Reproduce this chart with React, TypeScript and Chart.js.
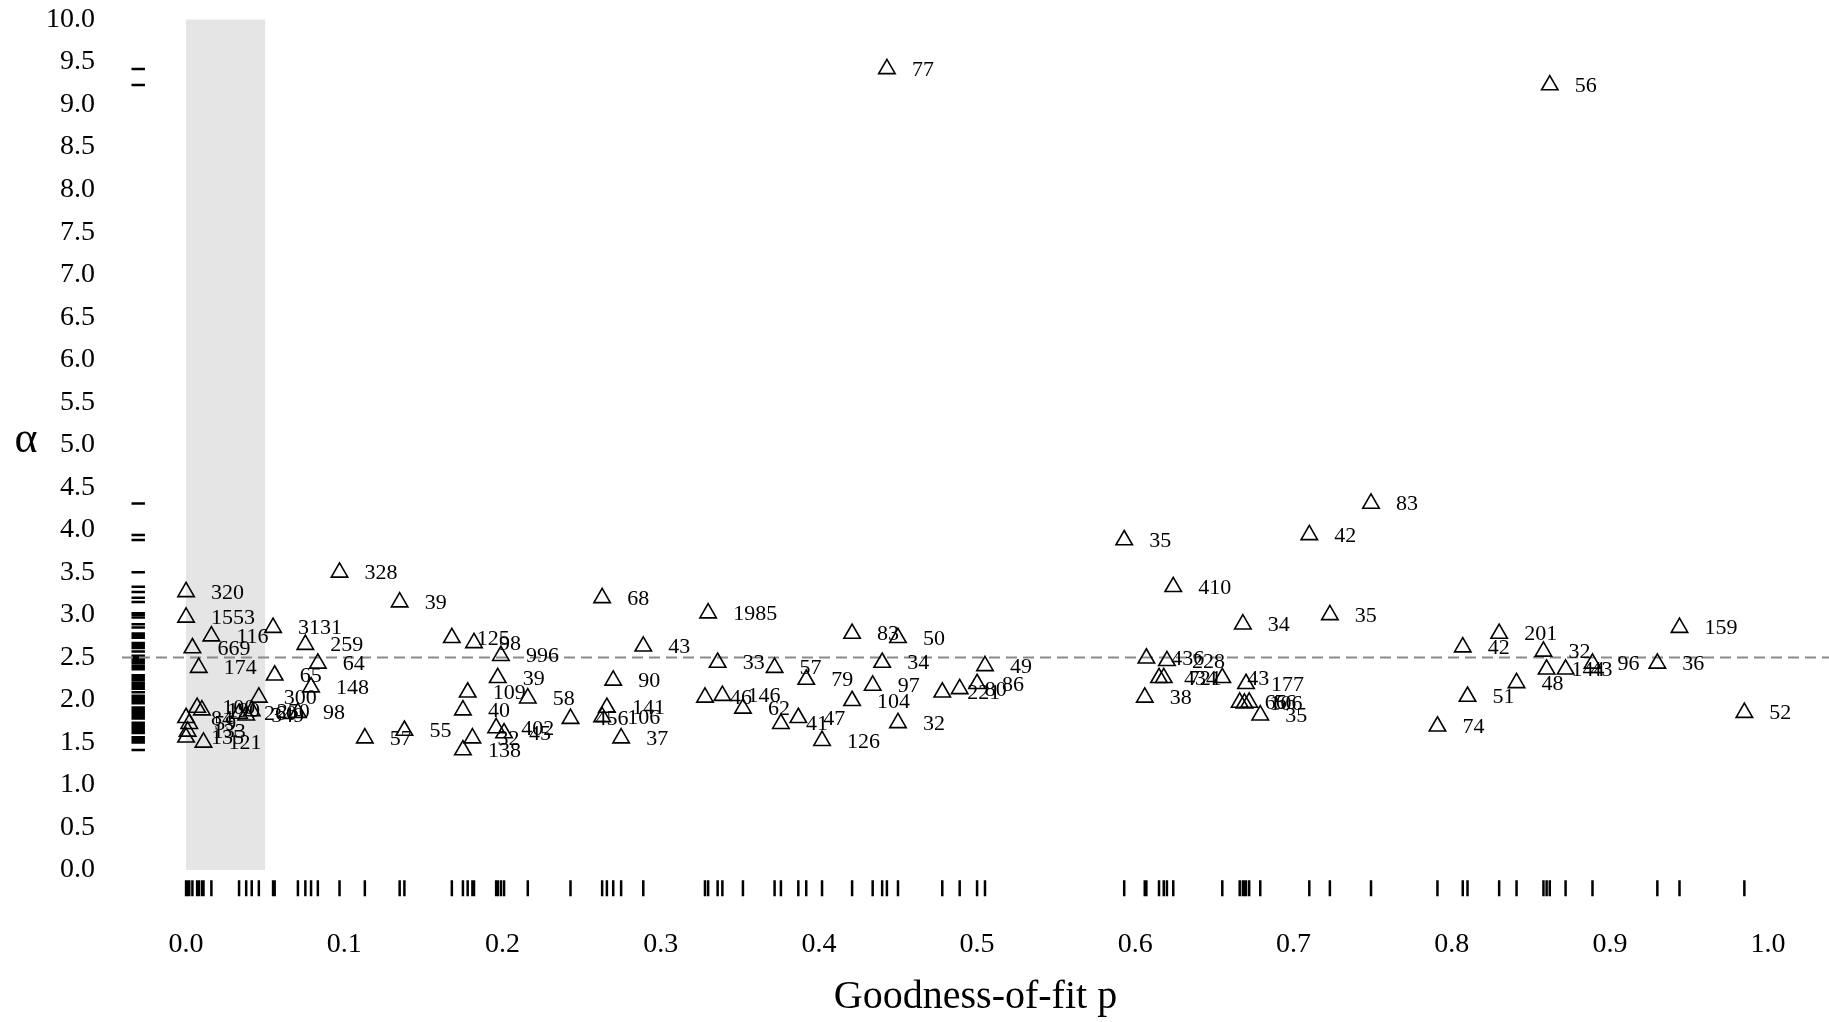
import React, { useEffect, useRef } from 'react';
import { Chart, registerables } from 'chart.js';

Chart.register(...registerables);

// Goodness-of-fit p for each data set
const pValues: number[] = [
  0.000, 0.000, 0.004, 0.008, 0.016, 0.000, 0.002, 0.001, 0.000, 0.011,
  0.007, 0.010, 0.0335, 0.038, 0.0415, 0.046,
  0.055, 0.056, 0.0707, 0.0754, 0.079, 0.0833, 0.097,
  0.113, 0.135, 0.138,
  0.168, 0.175, 0.175, 0.178, 0.181, 0.182, 0.196, 0.197, 0.199, 0.201, 0.216, 0.243,
  0.263, 0.263, 0.266, 0.270, 0.275, 0.289,
  0.328, 0.330, 0.336, 0.339, 0.352, 0.372, 0.376, 0.387, 0.392, 0.402,
  0.421, 0.421, 0.434, 0.440, 0.443, 0.450, 0.450, 0.478, 0.489, 0.500, 0.505,
  0.593, 0.606, 0.607, 0.615, 0.618, 0.620, 0.624, 0.655, 0.666, 0.668, 0.669, 0.670, 0.672, 0.679,
  0.710, 0.723, 0.749, 0.791, 0.807, 0.810, 0.830, 0.841, 0.858, 0.860, 0.862, 0.872, 0.889, 0.930, 0.944, 0.985,
];

// Estimated power-law exponent alpha
const alphaValues: number[] = [
  3.27, 2.97, 2.61, 2.38, 2.75, 1.79, 1.72, 1.63, 1.56, 1.50,
  1.91, 1.88, 1.84, 1.82, 1.87, 2.03,
  2.85, 2.29, 1.85, 2.65, 2.15, 2.43, 3.50,
  1.55, 3.15, 1.64,
  2.73, 1.88, 1.41, 2.09, 1.55, 2.67, 1.67, 2.26, 2.52, 1.61, 2.02, 1.78,
  3.20, 1.80, 1.91, 2.23, 1.55, 2.63,
  2.03, 3.02, 2.44, 2.05, 1.90, 2.38, 1.72, 1.79, 2.24, 1.52,
  2.78, 1.99, 2.17, 2.44, 9.42, 2.73, 1.73, 2.09, 2.13, 2.19, 2.40,
  3.88, 2.03, 2.49, 2.26, 2.26, 2.46, 3.33, 2.26, 1.97, 2.89, 1.96, 2.19, 1.97, 1.82,
  3.94, 3.00, 4.31, 1.69, 2.62, 2.04, 2.78, 2.20, 2.57, 2.36, 9.23, 2.36, 2.43, 2.43, 2.85, 1.85,
];

// Sample size printed beside each point
const pointLabels: string[] = [
  '320', '1553', '669', '174', '116', '84', '59', '133', '135', '121',
  '100', '190', '260', '349', '250', '300',
  '3131', '65', '98', '259', '148', '64', '328',
  '57', '39', '55',
  '125', '40', '138', '109', '32', '98', '402', '39', '996', '45', '58', '456',
  '68', '106', '141', '90', '37', '43',
  '46', '1985', '33', '146', '62', '57', '41', '47', '79', '126',
  '83', '104', '97', '34', '77', '50', '32', '221', '80', '86', '49',
  '35', '38', '436', '434', '721', '228', '410', '43', '66', '34', '106', '177', '56', '35',
  '42', '35', '83', '74', '42', '51', '201', '48', '32', '144', '56', '43', '96', '36', '159', '52',
];

const xTickValues: number[] = [0, 0.1, 0.2, 0.3, 0.4, 0.5, 0.6, 0.7, 0.8, 0.9, 1.0];
const yTickValues: number[] = [
  0, 0.5, 1, 1.5, 2, 2.5, 3, 3.5, 4, 4.5, 5, 5.5, 6, 6.5, 7, 7.5, 8, 8.5, 9, 9.5, 10,
];
const shadeP: number[] = [0, 0.05];
const shadeAlpha: number[] = [0, 10];
const referenceAlpha = 2.5;
const xTitle = 'Goodness-of-fit p';
const yTitle = 'α';

// style constants (data units for rug placement)
const X_RUG_ALPHA = [-0.12, -0.31];
const Y_RUG_P = [-0.0345, -0.026];
const FONT = "'Liberation Serif', 'Times New Roman', serif";

const decorPlugin = {
  id: 'decor',
  beforeDatasetsDraw(chart: any) {
    const { ctx, chartArea, scales } = chart;
    const x = scales.x;
    const y = scales.y;
    ctx.save();
    // shaded significance band
    ctx.fillStyle = '#e5e5e5';
    const sx0 = x.getPixelForValue(shadeP[0]);
    const sx1 = x.getPixelForValue(shadeP[1]);
    const sy0 = y.getPixelForValue(shadeAlpha[1]);
    const sy1 = y.getPixelForValue(shadeAlpha[0]);
    ctx.fillRect(sx0, sy0, sx1 - sx0, sy1 - sy0);

    // rugs
    ctx.strokeStyle = '#000';
    ctx.lineWidth = 2.5;
    ctx.beginPath();
    const ry0 = y.getPixelForValue(X_RUG_ALPHA[0]);
    const ry1 = y.getPixelForValue(X_RUG_ALPHA[1]);
    pValues.forEach((p) => {
      const px = x.getPixelForValue(p);
      ctx.moveTo(px, ry0);
      ctx.lineTo(px, ry1);
    });
    const rx0 = x.getPixelForValue(Y_RUG_P[0]);
    const rx1 = x.getPixelForValue(Y_RUG_P[1]);
    alphaValues.forEach((a) => {
      const py = y.getPixelForValue(a);
      ctx.moveTo(rx0, py);
      ctx.lineTo(rx1, py);
    });
    ctx.stroke();

    // reference dashed line
    const ly = y.getPixelForValue(referenceAlpha);
    ctx.setLineDash([11, 6]);
    ctx.strokeStyle = '#8a8a8a';
    ctx.lineWidth = 2;
    ctx.beginPath();
    ctx.moveTo(chartArea.left, ly);
    ctx.lineTo(chartArea.right, ly);
    ctx.stroke();
    ctx.restore();
  },
  afterDatasetsDraw(chart: any) {
    const { ctx, scales } = chart;
    const x = scales.x;
    const y = scales.y;
    ctx.save();
    ctx.fillStyle = '#000';
    ctx.font = `22px ${FONT}`;
    ctx.textAlign = 'left';
    ctx.textBaseline = 'middle';
    pValues.forEach((p, i) => {
      const px = x.getPixelForValue(p);
      const py = y.getPixelForValue(alphaValues[i]);
      ctx.fillText(pointLabels[i], px + 25, py + 1);
    });
    // y-axis title (upright)
    ctx.font = `44px ${FONT}`;
    ctx.textAlign = 'center';
    ctx.fillText(yTitle, 26, y.getPixelForValue(5) - 4);
    ctx.restore();
  },
};

export default function App() {
  const ref = useRef<HTMLCanvasElement | null>(null);

  useEffect(() => {
    if (!ref.current) return;
    const chart = new Chart(ref.current, {
      type: 'scatter',
      data: {
        datasets: [
          {
            data: pValues.map((p, i) => ({ x: p, y: alphaValues[i] })),
            pointStyle: 'triangle',
            pointRadius: 9.5,
            pointHoverRadius: 9.5,
            borderColor: '#000',
            borderWidth: 1.6,
            backgroundColor: 'rgba(0,0,0,0)',
            clip: false,
          },
        ],
      },
      options: {
        responsive: false,
        animation: false,
        events: [],
        layout: { padding: 0, autoPadding: false },
        plugins: {
          legend: { display: false },
          tooltip: { enabled: false },
        },
        scales: {
          x: {
            type: 'linear',
            min: -0.0405,
            max: 1.0385,
            grid: { display: false, drawTicks: false },
            border: { display: false },
            afterBuildTicks: (s: any) => {
              s.ticks = xTickValues.map((v) => ({ value: v }));
            },
            afterFit: (s: any) => {
              s.height = 118;
              s.paddingLeft = 0;
              s.paddingRight = 0;
            },
            ticks: {
              autoSkip: false,
              maxRotation: 0,
              padding: 24,
              color: '#000',
              font: { family: FONT, size: 28 },
              callback: (v: any) => Number(v).toFixed(1),
            },
            title: {
              display: true,
              text: xTitle,
              color: '#000',
              font: { family: FONT, size: 40 },
              padding: { top: 0, bottom: 1 },
            },
          },
          y: {
            type: 'linear',
            min: -0.4,
            max: 10.23,
            grid: { display: false, drawTicks: false },
            border: { display: false },
            afterBuildTicks: (s: any) => {
              s.ticks = yTickValues.map((v) => ({ value: v }));
            },
            afterFit: (s: any) => {
              s.width = 122;
              s.paddingTop = 0;
              s.paddingBottom = 0;
            },
            ticks: {
              autoSkip: false,
              padding: 27,
              color: '#000',
              font: { family: FONT, size: 28 },
              callback: (v: any) => Number(v).toFixed(1),
            },
          },
        },
      },
      plugins: [decorPlugin],
    } as any);
    return () => chart.destroy();
  }, []);

  return (
    <div style={{ position: 'absolute', left: 0, top: 0, width: 1829, height: 1022, background: '#fff' }}>
      <canvas ref={ref} width={1829} height={1022} style={{ display: 'block' }} />
    </div>
  );
}
